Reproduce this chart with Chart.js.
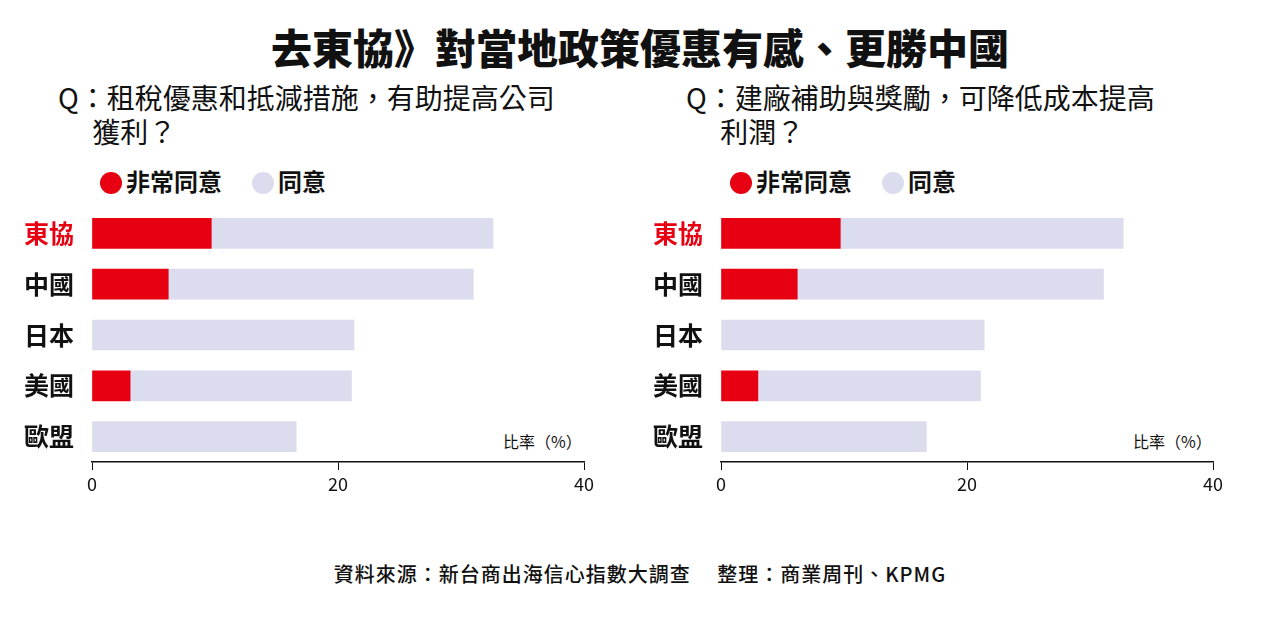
<!DOCTYPE html>
<html><head><meta charset="utf-8">
<script src="https://cdn.jsdelivr.net/npm/chart.js@4.4.0/dist/chart.umd.min.js"></script>
<style>
body{margin:0;width:1280px;height:617px;background:#fff;position:relative;overflow:hidden;font-family:"Noto Sans CJK TC",sans-serif;color:#111}
.t{position:absolute;white-space:nowrap}
.dot{display:inline-block;width:22px;height:22px;border-radius:50%;vertical-align:-3px;margin-right:4px}
canvas{position:absolute}
</style></head><body>
<div class="t" style="left:0;width:1280px;text-align:center;top:16px;font-size:41px;font-weight:900">去東協》對當地政策優惠有感、更勝中國</div>
<div class="t" style="left:58px;top:80px;font-size:28px;line-height:34px">Q：租稅優惠和抵減措施，有助提高公司<br>　 獲利？</div>
<div class="t" style="left:686px;top:80px;font-size:28px;line-height:34px">Q：建廠補助與獎勵，可降低成本提高<br>　 利潤？</div>
<div class="t" style="left:100px;top:163px;font-size:24px;font-weight:700"><span class="dot" style="background:#e60012"></span>非常同意<span class="dot" style="background:#dcdcef;margin-left:30px"></span>同意</div>
<div class="t" style="left:730px;top:163px;font-size:24px;font-weight:700"><span class="dot" style="background:#e60012"></span>非常同意<span class="dot" style="background:#dcdcef;margin-left:30px"></span>同意</div>
<div class="t" style="left:503px;top:429px;font-size:16px">比率（%）</div>
<div class="t" style="left:1133px;top:429px;font-size:16px">比率（%）</div>
<canvas id="c1" style="left:0;top:183px;width:620px;height:327px"></canvas>
<canvas id="c2" style="left:629px;top:183px;width:620px;height:327px"></canvas>
<div class="t" style="left:0;width:1280px;text-align:center;top:559px;font-size:20px;font-weight:500;letter-spacing:1px">資料來源：新台商出海信心指數大調查　 整理：商業周刊、KPMG</div>
<script>
const categories = ["東協", "中國", "日本", "美國", "歐盟"];
const xTicks = [0, 20, 40];
// left: tax incentives
const taxStrong = [9.7, 6.2, 0, 3.1, 0];
const taxTotal = [32.6, 31.0, 21.3, 21.1, 16.6];
// right: subsidies
const subStrong = [9.7, 6.2, 0, 3.0, 0];
const subTotal = [32.7, 31.1, 21.4, 21.1, 16.7];

function makeChart(id, strong, total) {
  new Chart(document.getElementById(id), {
    type: "bar",
    data: {
      labels: categories,
      datasets: [
        { label: "非常同意", data: strong.map((v) => (v > 0 ? v : null)), backgroundColor: "#e60012", barThickness: 30 },
        { label: "同意", data: total.map((t, i) => +(t - strong[i]).toFixed(1)), backgroundColor: "#dcdcef", barThickness: 30 },
      ],
    },
    options: {
      indexAxis: "y",
      responsive: false,
      animation: false,
      layout: { padding: { top: 5, right: 36 } },
      plugins: { legend: { display: false }, tooltip: { enabled: false } },
      scales: {
        x: {
          stacked: true, min: 0, max: 40,
          afterBuildTicks: (s) => { s.ticks = xTicks.map((v) => ({ value: v })); },
          afterFit: (s) => { s.height = 48; },
          border: { color: "#111", width: 1.5 },
          grid: { drawOnChartArea: false, color: "#111", tickLength: 8 },
          ticks: { color: "#111", font: { size: 18, family: "Noto Sans CJK TC" } },
        },
        y: {
          stacked: true,
          afterFit: (s) => { s.width = 92; },
          border: { display: false },
          grid: { display: false },
          ticks: {
            padding: 10,
            color: (c) => (c.index === 0 ? "#e60012" : "#111"),
            font: { size: 25, weight: "bold", family: "Noto Sans CJK TC" },
          },
        },
      },
    },
  });
}
makeChart("c1", taxStrong, taxTotal);
makeChart("c2", subStrong, subTotal);
</script>
</body></html>
